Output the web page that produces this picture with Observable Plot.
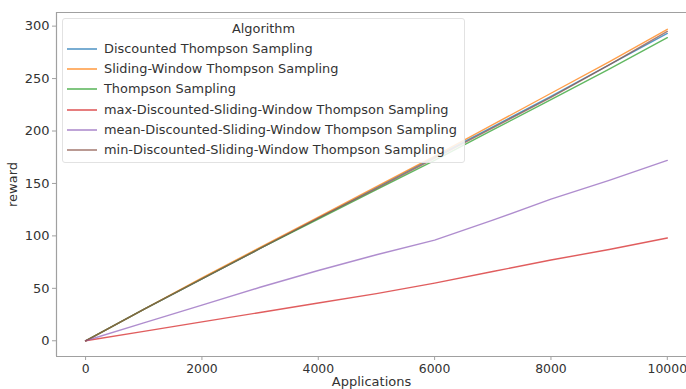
<!DOCTYPE html>
<html>
<head>
<meta charset="utf-8">
<script src="https://cdn.jsdelivr.net/npm/d3@7"></script>
<script src="https://cdn.jsdelivr.net/npm/@observablehq/plot@0.6"></script>
<style>
  html, body { margin: 0; padding: 0; background: #fff; }
  #wrap { position: relative; width: 686px; height: 389px; overflow: hidden; font-family: "DejaVu Sans", sans-serif; }
  #legend { position: absolute; left: 62px; top: 18px; width: 403px; height: 145px;
            border: 1px solid #e2e2e2; border-radius: 3px; background: rgba(255,255,255,0.85);
            box-sizing: border-box; color: #333; font-size: 12.9px; }
  #legend .title { position: absolute; left: 0; right: 0; top: 2px; text-align: center; }
  #legend .item { position: absolute; left: 0; height: 16px; line-height: 16px; white-space: nowrap; }
  #legend .swatch { position: absolute; left: 4px; top: 7px; width: 30px; height: 2px; }
  #legend .lab { position: absolute; left: 41px; top: 0; }
</style>
</head>
<body>
<div id="wrap"></div>
<script>
const applications = [0, 1000, 2000, 3000, 4000, 5000, 6000, 7000, 8000, 9000, 10000];
const algorithms = [
  "Discounted Thompson Sampling",
  "Sliding-Window Thompson Sampling",
  "Thompson Sampling",
  "max-Discounted-Sliding-Window Thompson Sampling",
  "mean-Discounted-Sliding-Window Thompson Sampling",
  "min-Discounted-Sliding-Window Thompson Sampling"
];
const discountedTS    = [0, 30, 59, 88, 117, 146, 175, 204, 233, 263, 293];
const slidingWindowTS = [0, 30, 60, 89, 118, 147, 176, 206, 236, 266, 297];
const thompsonS       = [0, 30, 59, 88, 116, 144, 172, 201, 230, 259, 289];
const maxDSWTS        = [0, 9, 18, 27, 36, 45, 55, 66, 77, 87, 98];
const meanDSWTS       = [0, 17, 34, 51, 67, 82, 96, 115, 135, 153, 172];
const minDSWTS        = [0, 30, 59, 88, 117, 145, 174, 203, 232, 263, 295];
const seriesValues = [discountedTS, slidingWindowTS, thompsonS, maxDSWTS, meanDSWTS, minDSWTS];
const xTicks = [0, 2000, 4000, 6000, 8000, 10000];
const yTicks = [0, 50, 100, 150, 200, 250, 300];
const colors = ["#1f77b4", "#ff7f0e", "#2ca02c", "#d62728", "#9467bd", "#8c564b"];

const data = [];
algorithms.forEach((a, i) => {
  applications.forEach((x, j) => data.push({algorithm: a, applications: x, reward: seriesValues[i][j]}));
});

const axisColor = "#a0a0a0";
const chart = Plot.plot({
  width: 686,
  height: 389,
  marginLeft: 56,
  marginRight: 0,
  marginTop: 12,
  marginBottom: 33,
  style: {fontFamily: "DejaVu Sans, sans-serif", fontSize: "13px", color: "#333", background: "white"},
  x: {domain: [-500, 10330]},
  y: {domain: [-15, 313]},
  color: {domain: algorithms, range: colors},
  marks: [
    Plot.axisX({ticks: xTicks, tickSize: 4, tickPadding: 4, stroke: axisColor, fill: "#333", fontSize: 12.4,
                tickFormat: d => String(d), label: null}),
    Plot.axisX({ticks: [], label: "Applications", labelAnchor: "center", labelArrow: "none", labelOffset: 29, fill: "#333"}),
    Plot.axisY({ticks: yTicks, tickSize: 4, tickPadding: 3, stroke: axisColor, fill: "#333",
                label: "reward", labelAnchor: "center", labelArrow: "none", labelOffset: 49}),
    Plot.ruleX([-500], {stroke: axisColor, strokeWidth: 1.2}),
    Plot.ruleY([-15], {stroke: axisColor, strokeWidth: 1.2}),
    Plot.ruleY([313], {stroke: axisColor, strokeWidth: 1.2}),
    Plot.line(data, {x: "applications", y: "reward", z: "algorithm", stroke: "algorithm", strokeWidth: 1.4, strokeOpacity: 0.75})
  ]
});

const wrap = document.getElementById("wrap");
wrap.appendChild(chart);

const legend = document.createElement("div");
legend.id = "legend";
const title = document.createElement("div");
title.className = "title";
title.textContent = "Algorithm";
legend.appendChild(title);
const colorScale = chart.scale("color");
algorithms.forEach((a, i) => {
  const item = document.createElement("div");
  item.className = "item";
  item.style.top = (22 + i * 20.2) + "px";
  const sw = document.createElement("div");
  sw.className = "swatch";
  sw.style.background = colorScale.apply(a);
  sw.style.opacity = 0.6;
  const lab = document.createElement("span");
  lab.className = "lab";
  lab.textContent = a;
  item.appendChild(sw);
  item.appendChild(lab);
  legend.appendChild(item);
});
wrap.appendChild(legend);
</script>
</body>
</html>
